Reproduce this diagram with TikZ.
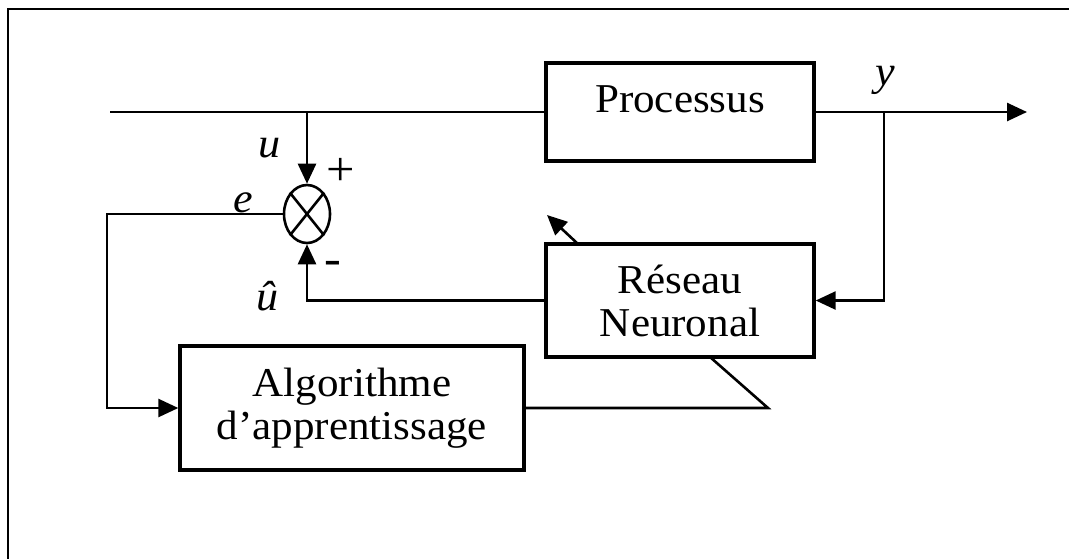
\documentclass[tikz,border=0pt]{standalone}
\usepackage{fontspec}
\setmainfont[FakeStretch=1.05]{Liberation Serif}
\usetikzlibrary{arrows.meta,shapes.geometric}

\tikzset{
  wire/.style={line width=1.3pt},
  sig/.style={wire,-{Triangle[length=10pt,width=9pt]}},
  blockbox/.style={draw,line width=1.7pt,rectangle,inner sep=0pt,
    font=\fontsize{20.5}{21.5}\selectfont,align=center},
  txt/.style={font=\fontsize{20.5}{21.5}\selectfont,inner sep=0pt},
  sym/.style={font=\fontsize{21}{21.5}\selectfont\itshape,inner sep=0pt},
  frameline/.style={line width=1.4pt,line cap=rect}
}

\begin{document}
\begin{tikzpicture}[x=0.5pt,y=-0.5pt]
\useasboundingbox (0,0) rectangle (1069,558);

% outer frame (only top and left sides fall inside the page)
\draw[frameline] (8,558) -- (8,9) -- (1069,9);

% blocks
\node[blockbox,minimum width=134pt,minimum height=49pt] (proc) at (680,112) {};
\node[txt,anchor=base] (proclbl) at (680,112) {Processus};
\node[blockbox,minimum width=134pt,minimum height=56.5pt] (rn) at (680,300.5) {Réseau\\Neuronal};
\node[blockbox,minimum width=172pt,minimum height=62pt] (algo) at (352,408) {Algorithme\\d’apprentissage};

% summing junction
\node[draw,ellipse,line width=1.3pt,minimum width=23pt,minimum height=29pt,inner sep=0pt] (sum) at (307,214) {};
\draw[wire] (sum.north west) -- (sum.south east);
\draw[wire] (sum.north east) -- (sum.south west);

% helper points
\coordinate (in)  at (110,112);
\coordinate (uj)  at (307,112);
\coordinate (yj)  at (884,112);
\coordinate (out) at (1027,112);
\coordinate (ec)  at (107,214);
\coordinate (tc)  at (768,408);
\coordinate (rnb) at (710,357);
\coordinate (rnt) at (578,244);
\coordinate (adp) at (547,215);

% signal lines
\draw[wire] (in) -- (proc.west);
\draw[sig] (uj) -- (sum.north);
\draw[sig] (proc.east) -- (out);
\draw[sig] (yj) |- (rn.east);
\draw[sig] (rn.west) -| (sum.south);
\draw[sig] (sum.west) -- (ec) |- (algo.west);
\draw[wire,line join=miter] (algo.east) -- (tc) -- (rnb);
\draw[sig] (rnt) -- (adp);

% signal labels
\node[sym] (ulbl) at (270,148) {u};
\node[sym] (elbl) at (243,203) {e};
\node[sym] (ylbl) at (885,80) {y};
\node[sym] (uhlbl) at (268,296) {û};
\node[txt,font=\fontsize{24}{24}\selectfont] (plus) at (341,172) {+};
\node[txt,font=\fontsize{24}{24}\selectfont] (minus) at (333,268) {-};
\end{tikzpicture}
\end{document}
